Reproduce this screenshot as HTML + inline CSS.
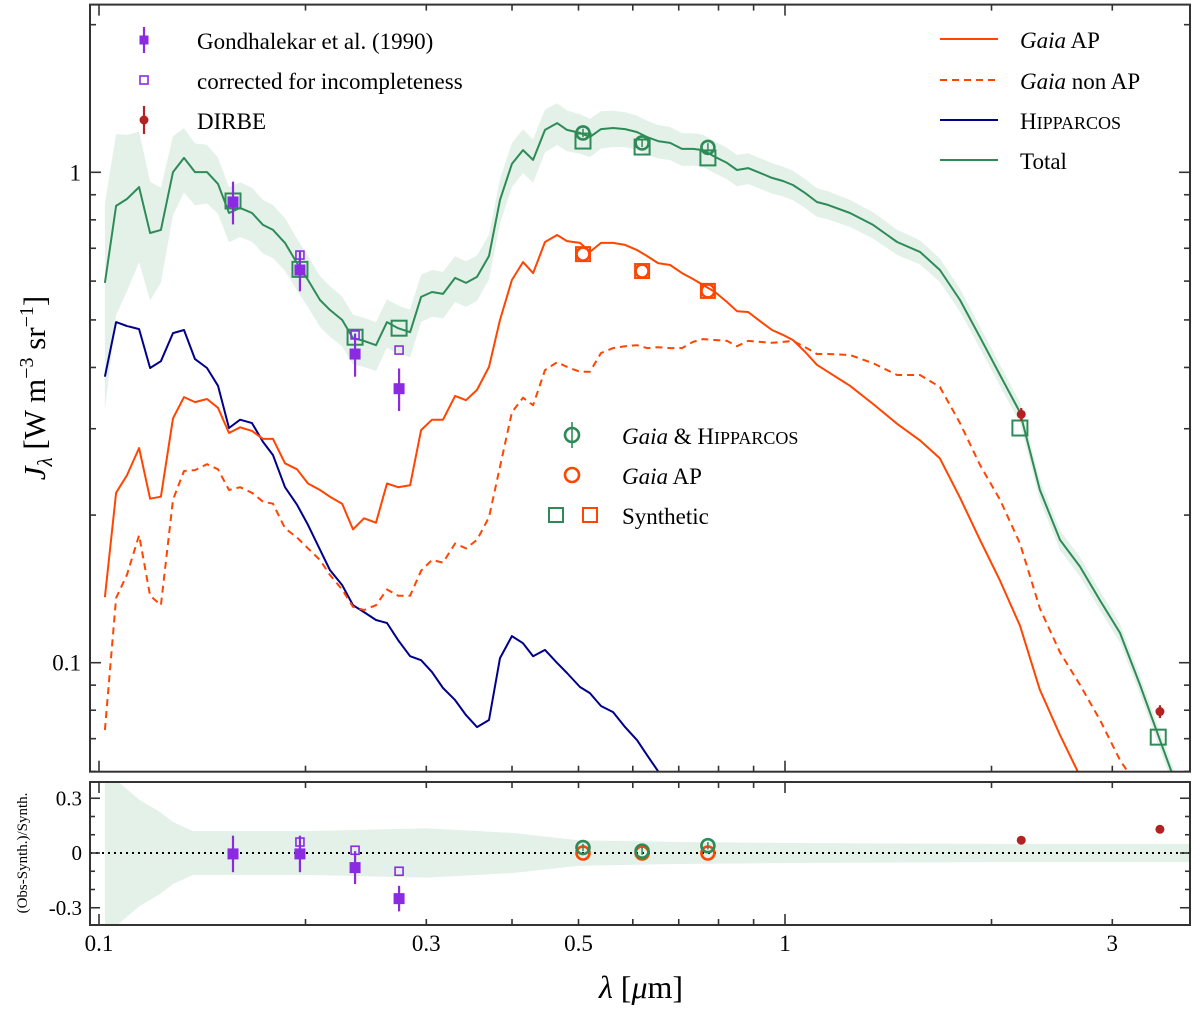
<!DOCTYPE html>
<html><head><meta charset="utf-8"><style>
html,body{margin:0;padding:0;background:#fff;}
svg{display:block;font-family:"Liberation Serif",serif;}
</style></head><body>
<svg id="chart" width="1200" height="1010" viewBox="0 0 1200 1010" xmlns="http://www.w3.org/2000/svg">
<defs>
<clipPath id="clipMain"><rect x="90" y="4.6" width="1100" height="767.1"/></clipPath>
<clipPath id="clipRes"><rect x="90" y="782" width="1100" height="143"/></clipPath>
</defs>
<g id="mainBand" clip-path="url(#clipMain)"></g>
<g id="mainLines" clip-path="url(#clipMain)"></g>
<g id="mainPts" clip-path="url(#clipMain)"></g>
<g id="resG" clip-path="url(#clipRes)"></g>
<g id="axesG"></g>
<g id="legendG"></g>
</svg>
<script>
// ---- data ----
const lambdaGrid = [0.1020,0.1059,0.1098,0.1144,0.1187,0.1231,0.1282,0.1330,0.1380,0.1437,0.1491,0.1547,0.1606,0.1671,0.1734,0.1793,0.1867,0.1944,0.2017,0.2100,0.2171,0.2261,0.2346,0.2434,0.2534,0.2629,0.2729,0.2841,0.2948,0.3058,0.3173,0.3304,0.3428,0.3556,0.3703,0.3842,0.3999,0.4150,0.4293,0.4469,0.4653,0.4811,0.5026,0.5196,0.5393,0.5615,0.5846,0.6086,0.6293,0.6530,0.6799,0.7078,0.7344,0.7595,0.7907,0.8232,0.8511,0.8834,0.9197,0.9573,0.9933,1.027,1.070,1.113,1.155,1.244,1.344,1.457,1.573,1.682,1.799,1.924,2.058,2.201,2.353,2.517,2.692,2.879,3.078,3.292,3.521,3.765];
const totalJ = [0.595,0.854,0.882,0.933,0.752,0.763,1.001,1.070,1.001,1.001,0.947,0.826,0.846,0.826,0.781,0.763,0.718,0.653,0.603,0.549,0.524,0.500,0.459,0.453,0.444,0.495,0.481,0.472,0.557,0.570,0.565,0.609,0.595,0.612,0.675,0.878,1.040,1.110,1.060,1.220,1.260,1.220,1.203,1.180,1.225,1.231,1.225,1.208,1.180,1.158,1.148,1.116,1.116,1.110,1.075,1.045,1.011,1.020,0.997,0.974,0.960,0.942,0.907,0.870,0.858,0.826,0.781,0.721,0.688,0.632,0.549,0.461,0.386,0.324,0.225,0.178,0.157,0.134,0.115,0.0901,0.0695,0.0537];
const gaiaApJ = [0.136,0.222,0.241,0.274,0.216,0.218,0.315,0.348,0.340,0.345,0.331,0.294,0.302,0.297,0.286,0.286,0.255,0.248,0.232,0.225,0.218,0.211,0.187,0.197,0.193,0.232,0.228,0.230,0.298,0.313,0.313,0.350,0.343,0.360,0.401,0.500,0.603,0.656,0.623,0.721,0.745,0.724,0.718,0.688,0.718,0.718,0.711,0.694,0.675,0.653,0.647,0.623,0.606,0.589,0.570,0.544,0.521,0.519,0.497,0.477,0.466,0.455,0.430,0.405,0.392,0.367,0.337,0.307,0.284,0.261,0.217,0.178,0.147,0.119,0.0880,0.0712,0.0587,null,null,null,null,null];
const gaiaNonApJ = [0.0729,0.1355,0.151,0.182,0.137,0.131,0.215,0.246,0.247,0.254,0.248,0.225,0.228,0.222,0.213,0.211,0.188,0.180,0.171,0.162,0.151,0.141,0.130,0.128,0.131,0.141,0.137,0.137,0.154,0.162,0.160,0.175,0.171,0.178,0.198,0.251,0.324,0.347,0.335,0.395,0.410,0.401,0.392,0.392,0.428,0.438,0.442,0.444,0.438,0.440,0.438,0.438,0.451,0.457,0.455,0.453,0.442,0.453,0.451,0.449,0.451,0.453,0.440,0.426,0.426,0.424,0.408,0.386,0.386,0.365,0.308,0.253,0.215,0.175,0.129,0.105,0.0901,0.0764,0.0633,0.0550,null,null];
const hipparcosJ = [0.383,0.495,0.486,0.479,0.399,0.412,0.470,0.477,0.416,0.399,0.367,0.301,0.313,0.308,0.282,0.265,0.228,0.210,0.191,0.170,0.1545,0.144,0.131,0.1268,0.1222,0.1205,0.1112,0.1031,0.1012,0.0957,0.0888,0.0839,0.0782,0.0739,0.0764,0.1022,0.1133,0.1096,0.1031,0.1062,0.0999,0.0953,0.0892,0.0867,0.0816,0.0793,0.0739,0.0695,0.0648,0.0601,0.055,null,null,null,null,null,null,null,null,null,null,null,null,null,null,null,null,null,null,null,null,null,null,null,null,null,null,null,null,null,null,null];
const mainBandLam = [0.102,0.106,0.114,0.119,0.123,0.133,0.15,0.2,0.3,0.45,0.6,1,2,3.9];
const mainBandErr = [0.45,0.40,0.30,0.27,0.22,0.15,0.13,0.12,0.11,0.10,0.08,0.07,0.05,0.04];
// Gondhalekar et al. (1990)
const gondLam = [0.1568,0.1963,0.2362,0.2738];
const gondJ = [0.870,0.632,0.426,0.362];
const gondErr = [0.087,0.060,0.043,0.036];
const gondCorrJ = [0.878,0.678,0.466,0.434];
// Synthetic photometry
const synthLam = [0.1568,0.1963,0.2362,0.2738,0.5076,0.619,0.772,2.2,3.5];
const synthTotalJ = [0.874,0.634,0.461,0.481,1.158,1.126,1.070,0.301,0.0705];
const optLam = [0.5076,0.619,0.772];
const gaiaHipJ = [1.203,1.148,1.124];
const gaiaApObsJ = [0.681,0.629,0.573];
const synthApJ = [0.681,0.629,0.573];
const dirbeLam = [2.21,3.52];
const dirbeJ = [0.321,0.0795];
// residuals
const resGond = [-0.005,-0.005,-0.08,-0.25];
const resGondErr = [0.10,0.10,0.09,0.07];
const resGondCorr = [null,0.06,0.015,-0.10];
const resGaiaHip = [0.03,0.01,0.04];
const resGaiaAp = [0.0,0.0,0.0];
const resDirbe = [0.07,0.13];
const resDirbeErr = [0.02,0.02];
const resBandLam = [0.102,0.1066,0.1147,0.1227,0.1282,0.1371,0.2,0.3,0.4,0.5,0.7,1,2,3.9];
const resBandErr = [0.6,0.39,0.29,0.225,0.17,0.12,0.12,0.135,0.11,0.07,0.06,0.055,0.05,0.05];
const xTickMajor = [0.1,1];
const xTickMinor = [0.2,0.3,0.4,0.5,0.6,0.7,0.8,0.9,2,3];
const xTickLabels = [0.1,0.3,0.5,1,3];
const yTickMajor = [0.1,1];
const yTickMinor = [0.06,0.07,0.08,0.09,0.2,0.3,0.4,0.5,0.6,0.7,0.8,0.9,2];
const yTickLabels = ["0.1","1"];
const rTickMajor = [-0.3,0,0.3];
const rTickMinor = [-0.2,-0.1,0.1,0.2];

// ---- scales ----
const X0=90,X1=1190,YT=4.6,YB=771.7,RT=782,RB=925;
function xs(l){return 99+686*Math.log10(l/0.1);}
function ym(j){return 172.3-490.4*Math.log10(j);}
function yr(r){return 853-182.5*r;}
const NS="http://www.w3.org/2000/svg";
function mk(parent,tag,attrs,text){const e=document.createElementNS(NS,tag);for(const k in attrs)e.setAttribute(k,attrs[k]);if(text!==undefined)e.textContent=text;parent.appendChild(e);return e;}
function interp(xa,ya,x){if(x<=xa[0])return ya[0];for(let i=1;i<xa.length;i++){if(x<=xa[i]){const t=(Math.log(x)-Math.log(xa[i-1]))/(Math.log(xa[i])-Math.log(xa[i-1]));return ya[i-1]+t*(ya[i]-ya[i-1]);}}return ya[ya.length-1];}
const GREEN="#2e8b57",ORANGE="#ff4500",BLUE="#00008b",PURPLE="#8a2be2",RED="#b22222",BAND="#e3f1e9";

const mainBand=document.getElementById('mainBand');
const mainLines=document.getElementById('mainLines');
const mainPts=document.getElementById('mainPts');
const resG=document.getElementById('resG');
const axesG=document.getElementById('axesG');
const legendG=document.getElementById('legendG');

// main band
{let up=[],lo=[];lambdaGrid.forEach((l,i)=>{const j=totalJ[i];if(j==null)return;const e=interp(mainBandLam,mainBandErr,l);up.push(xs(l).toFixed(1)+","+ym(j*(1+e)).toFixed(1));lo.unshift(xs(l).toFixed(1)+","+ym(j*(1-e)).toFixed(1));});
const p=mk(mainBand,'polygon',{points:up.concat(lo).join(' '),fill:BAND,stroke:'none'});

}

function line(g,arr,color,dash,name){const pts=[];lambdaGrid.forEach((l,i)=>{if(arr[i]!=null)pts.push(xs(l).toFixed(1)+","+ym(arr[i]).toFixed(1));});
const a={points:pts.join(' '),fill:'none',stroke:color,'stroke-width':2,'stroke-linejoin':'round'};if(dash)a['stroke-dasharray']=dash;
const e=mk(g,'polyline',a);

}
line(mainLines,hipparcosJ,BLUE,null,'hipparcos-line');
line(mainLines,gaiaNonApJ,ORANGE,'7,5','gaia-non-ap-line');
line(mainLines,gaiaApJ,ORANGE,null,'gaia-ap-line');
line(mainLines,totalJ,GREEN,null,'total-line');

function sq(g,x,y,s,color,fill,name,sw){const e=mk(g,'rect',{x:x-s/2,y:y-s/2,width:s,height:s,fill:fill?color:'none',stroke:color,'stroke-width':sw||2});

return e;}
function circ(g,x,y,r,color,name){const e=mk(g,'circle',{cx:x,cy:y,r:r,fill:'none',stroke:color,'stroke-width':2.6});

return e;}
function vbar(g,x,y1,y2,color,name,w){const e=mk(g,'line',{x1:x,x2:x,y1:y1,y2:y2,stroke:color,'stroke-width':w||2.2});

return e;}

// synthetic squares
synthLam.forEach((l,i)=>{sq(mainPts,xs(l),ym(synthTotalJ[i]),15,GREEN,false,'synthetic-total-square');});
optLam.forEach((l,i)=>{sq(mainPts,xs(l),ym(synthApJ[i]),14,ORANGE,false,'synthetic-gaia-ap-square');});
optLam.forEach((l,i)=>{circ(mainPts,xs(l),ym(gaiaApObsJ[i]),6.5,ORANGE,'gaia-ap-circle');});
optLam.forEach((l,i)=>{circ(mainPts,xs(l),ym(gaiaHipJ[i]),6.5,GREEN,'gaia-hipparcos-circle');vbar(mainPts,xs(l),ym(gaiaHipJ[i]*1.02),ym(gaiaHipJ[i]*0.98),GREEN,'gaia-hipparcos-errorbar',1.5);});
gondLam.forEach((l,i)=>{if(i>0)sq(mainPts,xs(l),ym(gondCorrJ[i]),8,PURPLE,false,'corrected-square',1.6);});
gondLam.forEach((l,i)=>{vbar(mainPts,xs(l),ym(gondJ[i]+gondErr[i]),ym(gondJ[i]-gondErr[i]),PURPLE,'gondhalekar-errorbar');sq(mainPts,xs(l),ym(gondJ[i]),10,PURPLE,true,'gondhalekar-square',1);});
dirbeLam.forEach((l,i)=>{vbar(mainPts,xs(l),ym(dirbeJ[i]*1.03),ym(dirbeJ[i]*0.97),RED,'dirbe-errorbar');const c=mk(mainPts,'circle',{cx:xs(l),cy:ym(dirbeJ[i]),r:4.5,fill:RED});

});

// residual panel
{let up=[],lo=[];resBandLam.forEach((l,i)=>{up.push(xs(l).toFixed(1)+","+yr(resBandErr[i]).toFixed(1));lo.unshift(xs(l).toFixed(1)+","+yr(-resBandErr[i]).toFixed(1));});
const p=mk(resG,'polygon',{points:up.concat(lo).join(' '),fill:BAND,stroke:'none'});

}
{const z=mk(resG,'line',{x1:X0,x2:X1,y1:yr(0),y2:yr(0),stroke:'#000','stroke-width':2,'stroke-dasharray':'2,4'});

}
gondLam.forEach((l,i)=>{if(resGondCorr[i]!=null)sq(resG,xs(l),yr(resGondCorr[i]),8,PURPLE,false,'residual-corrected-square',1.6);});
gondLam.forEach((l,i)=>{vbar(resG,xs(l),yr(resGond[i]+resGondErr[i]),yr(resGond[i]-resGondErr[i]),PURPLE,'residual-gondhalekar-errorbar');sq(resG,xs(l),yr(resGond[i]),10,PURPLE,true,'residual-gondhalekar-square',1);});
optLam.forEach((l,i)=>{circ(resG,xs(l),yr(resGaiaAp[i]),6.5,ORANGE,'residual-gaia-ap-circle');});
optLam.forEach((l,i)=>{circ(resG,xs(l),yr(resGaiaHip[i]),6.5,GREEN,'residual-gaia-hipparcos-circle');vbar(resG,xs(l),yr(resGaiaHip[i]+0.02),yr(resGaiaHip[i]-0.02),GREEN,'residual-gh-errorbar',1.5);});
dirbeLam.forEach((l,i)=>{vbar(resG,xs(l),yr(resDirbe[i]+resDirbeErr[i]),yr(resDirbe[i]-resDirbeErr[i]),RED,'residual-dirbe-errorbar');const c=mk(resG,'circle',{cx:xs(l),cy:yr(resDirbe[i]),r:4.5,fill:RED});

});

// axes frames
[[YT,YB,'main-frame'],[RT,RB,'residual-frame']].forEach(f=>{const r=mk(axesG,'rect',{x:X0,y:f[0],width:X1-X0,height:f[1]-f[0],fill:'none',stroke:'#333','stroke-width':2});

});
function tk(x1,y1,x2,y2,name){const t=mk(axesG,'line',{x1:x1,y1:y1,x2:x2,y2:y2,stroke:'#333','stroke-width':1.6});

}
[[YT,YB],[RT,RB]].forEach(p=>{xTickMajor.forEach(v=>{const x=xs(v);tk(x,p[1],x,p[1]-11,'x-major-tick');tk(x,p[0],x,p[0]+11,'x-major-tick');});
xTickMinor.forEach(v=>{const x=xs(v);tk(x,p[1],x,p[1]-6,'x-minor-tick');tk(x,p[0],x,p[0]+6,'x-minor-tick');});});
yTickMajor.forEach(v=>{const y=ym(v);tk(X0,y,X0+11,y,'y-major-tick');tk(X1,y,X1-11,y,'y-major-tick');});
yTickMinor.forEach(v=>{const y=ym(v);tk(X0,y,X0+6,y,'y-minor-tick');tk(X1,y,X1-6,y,'y-minor-tick');});
rTickMajor.forEach(v=>{const y=yr(v);tk(X0,y,X0+10,y,'res-major-tick');tk(X1,y,X1-10,y,'res-major-tick');});
rTickMinor.forEach(v=>{const y=yr(v);tk(X0,y,X0+5,y,'res-minor-tick');tk(X1,y,X1-5,y,'res-minor-tick');});
yTickLabels.forEach((s,i)=>{const t=mk(axesG,'text',{x:81,y:ym(yTickMajor[i])+8,'font-size':23,'text-anchor':'end'},s);

});
rTickMajor.forEach(v=>{const t=mk(axesG,'text',{x:82,y:yr(v)+7,'font-size':21,'text-anchor':'end'},v===0?"0":v.toFixed(1));

});
xTickLabels.forEach(v=>{const t=mk(axesG,'text',{x:xs(v),y:951,'font-size':23,'text-anchor':'middle'},String(v));

});
</script>
<svg width="0" height="0"></svg>
<script>
// titles and legends (static text)
(function(){
const NS="http://www.w3.org/2000/svg";
const svg=document.getElementById('chart');
const ax=document.getElementById('axesG');
const lg=document.getElementById('legendG');
ax.insertAdjacentHTML('beforeend',
'<text x="641" y="998" font-size="32" text-anchor="middle"><tspan font-style="italic">λ</tspan> [<tspan font-style="italic">μ</tspan>m]</text>'+
'<text transform="translate(45,388) rotate(-90)" font-size="31" text-anchor="middle"><tspan font-style="italic">J</tspan><tspan font-style="italic" font-size="21" dy="7">λ</tspan><tspan dy="-7"> [W m</tspan><tspan font-size="20" dy="-12">−3</tspan><tspan dy="12"> sr</tspan><tspan font-size="20" dy="-12">−1</tspan><tspan dy="12">]</tspan></text>'+
'<text transform="translate(27,853) rotate(-90)" font-size="15" text-anchor="middle">(Obs-Synth.)/Synth.</text>');
lg.insertAdjacentHTML('beforeend',
'<g><line x1="144" x2="144" y1="27" y2="53" stroke="#8a2be2" stroke-width="2.2"/><rect x="139.5" y="35.5" width="9" height="9" fill="#8a2be2"/><text x="197" y="49" font-size="23">Gondhalekar et al. (1990)</text></g>'+
'<g><rect x="140" y="76" width="8" height="8" fill="none" stroke="#8a2be2" stroke-width="1.6"/><text x="197" y="89" font-size="23">corrected for incompleteness</text></g>'+
'<g><line x1="144" x2="144" y1="106" y2="134" stroke="#b22222" stroke-width="2.2"/><circle cx="144" cy="120" r="4.5" fill="#b22222"/><text x="197" y="129" font-size="23">DIRBE</text></g>'+
'<g><line x1="940" x2="998" y1="39" y2="39" stroke="#ff4500" stroke-width="2"/><text x="1020" y="48" font-size="23"><tspan font-style="italic">Gaia</tspan> AP</text></g>'+
'<g><line x1="940" x2="998" y1="80" y2="80" stroke="#ff4500" stroke-width="2" stroke-dasharray="7,5"/><text x="1020" y="89" font-size="23"><tspan font-style="italic">Gaia</tspan> non AP</text></g>'+
'<g><line x1="940" x2="998" y1="120" y2="120" stroke="#00008b" stroke-width="2"/><text x="1020" y="129" font-size="23">H<tspan font-size="18">IPPARCOS</tspan></text></g>'+
'<g><line x1="940" x2="998" y1="160" y2="160" stroke="#2e8b57" stroke-width="2"/><text x="1020" y="169" font-size="23">Total</text></g>'+
'<g><circle cx="572" cy="435" r="7" fill="none" stroke="#2e8b57" stroke-width="2.6"/><line x1="572" x2="572" y1="422" y2="448" stroke="#2e8b57" stroke-width="1.6"/><text x="622" y="444" font-size="23"><tspan font-style="italic">Gaia</tspan> &amp; H<tspan font-size="18">IPPARCOS</tspan></text></g>'+
'<g><circle cx="572" cy="475" r="7" fill="none" stroke="#ff4500" stroke-width="2.6"/><text x="622" y="484" font-size="23"><tspan font-style="italic">Gaia</tspan> AP</text></g>'+
'<g><rect x="549" y="508" width="14" height="14" fill="none" stroke="#2e8b57" stroke-width="2"/><rect x="583" y="508" width="14" height="14" fill="none" stroke="#ff4500" stroke-width="2"/><text x="622" y="524" font-size="23">Synthetic</text></g>');
})();
</script>
</body></html>
